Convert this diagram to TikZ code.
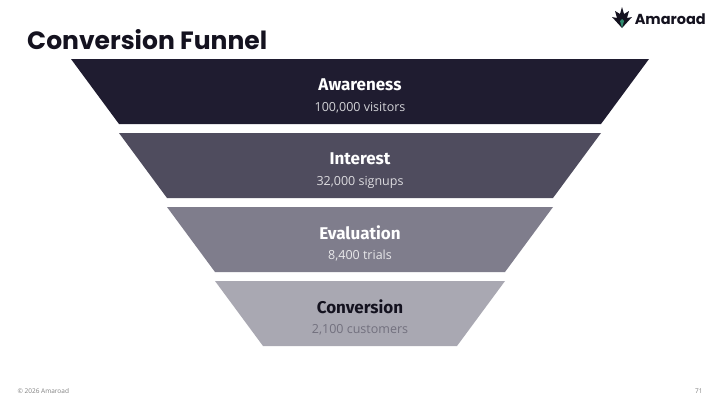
\documentclass[tikz,border=0pt]{standalone}
\usepackage{fontspec}
\setmainfont{Open Sans}
\newfontfamily\headfont{Poppins}
\newfontfamily\namefont{Fira Sans}
\usepackage{xcolor}
\definecolor{stageA}{HTML}{1F1C30}
\definecolor{stageB}{HTML}{4F4C5E}
\definecolor{stageC}{HTML}{7F7D8C}
\definecolor{stageD}{HTML}{A9A8B2}
\definecolor{inkdark}{HTML}{14121F}
\definecolor{leafgreen}{HTML}{2E8B6E}

\begin{document}
\begin{tikzpicture}[x=1pt,y=-1pt,
  stagename/.style={font=\namefont\fontsize{17}{20}\selectfont\bfseries},
  stagesub/.style={font=\fontsize{12.5}{15}\selectfont},
  footnote/.style={font=\fontsize{6.5}{8}\selectfont,text=gray}]
\useasboundingbox[fill=white] (0,0) rectangle (720,405);

% title
\node[anchor=west,inner sep=0pt,font=\headfont\fontsize{25}{28}\selectfont\bfseries,text=inkdark] (title) at (27,40) {Conversion Funnel};

% logo
\node[anchor=east,inner sep=0pt,font=\headfont\fontsize{14.5}{17}\selectfont\bfseries,text=inkdark] (brand) at (706,19) {Amaroad};
\fill[inkdark] (622,28) -- (612,17) -- (617,18) -- (615,11) -- (620,14) -- (622,7) -- (624,14) -- (629,11) -- (627,18) -- (632,17) -- cycle;
\fill[leafgreen] (622,28) -- (620,21) -- (622,19) -- (624,21) -- cycle;

% funnel stages
\foreach \i/\name/\sub/\col/\tc/\sc in {0/Awareness/{100,000 visitors}/stageA/white/white!80!stageA,
  1/Interest/{32,000 signups}/stageB/white/white!80!stageB,
  2/Evaluation/{8,400 trials}/stageC/white/white!82!stageC,
  3/Conversion/{2,100 customers}/stageD/inkdark/stageC!90!black}{
  \pgfmathsetmacro{\yt}{59+74*\i}
  \pgfmathsetmacro{\xl}{71+48*\i}
  \pgfmathsetmacro{\xr}{649-48*\i}
  \fill[\col] (\xl,\yt) -- (\xr,\yt) -- (\xr-48,\yt+65) -- (\xl+48,\yt+65) -- cycle;
  \node[stagename,text=\tc] (name\i) at (360,\yt+26) {\name};
  \node[stagesub,text=\sc] (sub\i) at (360,\yt+49) {\sub};
}

% footer
\node[footnote,anchor=west] (copy) at (14,391) {© 2026 Amaroad};
\node[footnote,anchor=east] (page) at (706,391) {71};
\end{tikzpicture}
\end{document}
